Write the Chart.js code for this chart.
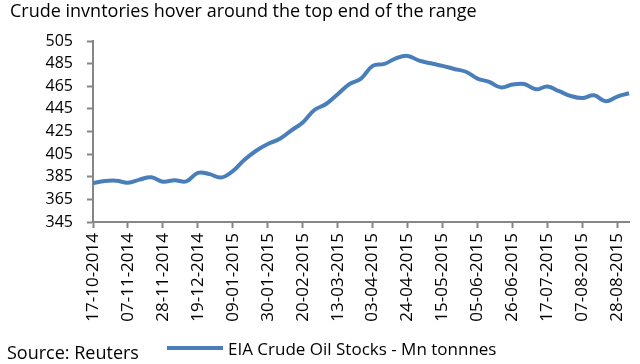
<!DOCTYPE html>
<html lang="en">
<head>
<meta charset="UTF-8">
<title>Crude inventories</title>
<script src="https://cdn.jsdelivr.net/npm/chart.js"></script>
<style>
    body { margin: 0; background: #fff; }
    canvas { display: block; }
</style>
</head>
<body>
<canvas id="chart" width="640" height="364"></canvas>
<script>
// weekly EIA crude stocks
const weeks = [
    "17-10-2014", "24-10-2014", "31-10-2014", "07-11-2014", "14-11-2014", "21-11-2014",
    "28-11-2014", "05-12-2014", "12-12-2014", "19-12-2014", "26-12-2014", "02-01-2015",
    "09-01-2015", "16-01-2015", "23-01-2015", "30-01-2015", "06-02-2015", "13-02-2015",
    "20-02-2015", "27-02-2015", "06-03-2015", "13-03-2015", "20-03-2015", "27-03-2015",
    "03-04-2015", "10-04-2015", "17-04-2015", "24-04-2015", "01-05-2015", "08-05-2015",
    "15-05-2015", "22-05-2015", "29-05-2015", "05-06-2015", "12-06-2015", "19-06-2015",
    "26-06-2015", "03-07-2015", "10-07-2015", "17-07-2015", "24-07-2015", "31-07-2015",
    "07-08-2015", "14-08-2015", "21-08-2015", "28-08-2015", "04-09-2015"
];
const stocks = [
    379.3, 381.2, 381.5, 379.7, 382.5, 384.5, 380.6, 382.0, 380.9, 388.5,
    387.3, 384.3, 390.0, 400.0, 408.0, 414.0, 418.3, 425.8, 433.0, 444.0,
    449.3, 458.0, 466.9, 471.8, 483.0, 484.7, 489.7, 491.8, 487.6, 485.3,
    483.0, 480.3, 477.8, 471.8, 468.8, 464.0, 466.5, 467.0, 462.3, 464.7,
    460.6, 456.4, 454.6, 457.0, 451.7, 455.9, 458.8
];
const yTicks = [345, 365, 385, 405, 425, 445, 465, 485, 505];
const seriesName = "EIA Crude Oil Stocks - Mn tonnnes";
const titleText = "Crude invntories hover around the top end of the range";
const sourceText = "Source: Reuters";

const lineColor = '#4a7ebb';
const axisColor = '#868686';
const fontFamily = '"Open Sans", sans-serif';

// title, source and legend drawn on the canvas
const extras = {
    id: 'extras',
    afterDraw(chart) {
        const ctx = chart.ctx;
        ctx.save();
        ctx.fillStyle = '#000';
        ctx.textBaseline = 'alphabetic';
        ctx.textAlign = 'left';
        ctx.font = '18px ' + fontFamily;
        ctx.fillText(titleText, 10, 17);
        ctx.fillText(sourceText, 7, 359);
        const ds = chart.data.datasets[0];
        ctx.strokeStyle = ds.borderColor;
        ctx.lineWidth = 4;
        ctx.beginPath();
        ctx.moveTo(167, 348);
        ctx.lineTo(223, 348);
        ctx.stroke();
        ctx.font = '17px ' + fontFamily;
        ctx.fillText(ds.label, 228, 355);
        ctx.restore();
    }
};

new Chart(document.getElementById('chart').getContext('2d'), {
    type: 'line',
    data: {
        labels: weeks,
        datasets: [{
            label: seriesName,
            data: stocks,
            borderColor: lineColor,
            borderWidth: 4,
            pointRadius: 0,
            tension: 0.4,
            fill: false
        }]
    },
    options: {
        responsive: false,
        animation: false,
        layout: { padding: { top: 41, right: 11, bottom: 0, left: 0 } },
        plugins: {
            legend: { display: false },
            title: { display: false },
            tooltip: { enabled: false }
        },
        scales: {
            x: {
                grid: {
                    drawOnChartArea: false,
                    tickLength: 6,
                    tickWidth: 2,
                    tickColor: c => c.index % 3 === 0 ? axisColor : 'rgba(0,0,0,0)'
                },
                border: { color: axisColor, width: 2 },
                ticks: {
                    autoSkip: false,
                    maxRotation: 90,
                    minRotation: 90,
                    padding: 5,
                    color: '#000',
                    font: { family: fontFamily, size: 17 },
                    callback: (v, i) => i % 3 === 0 ? weeks[i] : ''
                },
                afterFit: s => {
                    s.height = 142;
                    s.paddingLeft = 0;
                    s.paddingRight = 0;
                }
            },
            y: {
                min: yTicks[0],
                max: yTicks[yTicks.length - 1],
                afterBuildTicks: s => { s.ticks = yTicks.map(v => ({ value: v })); },
                grid: {
                    drawOnChartArea: false,
                    tickLength: 6,
                    tickWidth: 2,
                    tickColor: axisColor
                },
                border: { color: axisColor, width: 2 },
                ticks: {
                    padding: 14,
                    color: '#000',
                    font: { family: fontFamily, size: 16 }
                },
                afterFit: s => { s.width = 93; }
            }
        }
    },
    plugins: [extras]
});
</script>
</body>
</html>
